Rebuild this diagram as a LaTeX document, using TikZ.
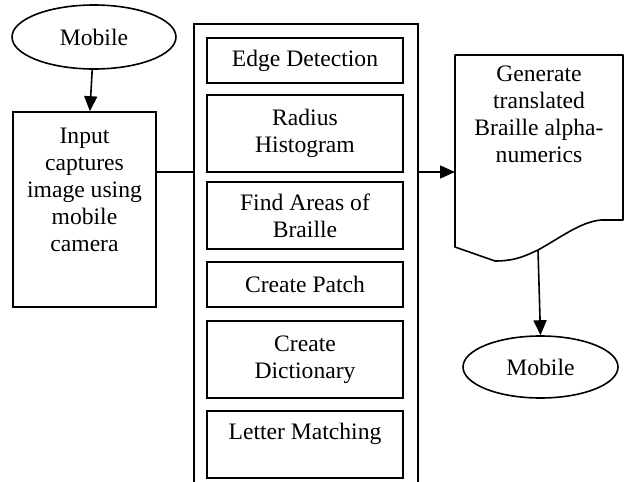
\documentclass[tikz,border=0pt]{standalone}
\usepackage{fontspec}
\setmainfont{Liberation Serif}
\usetikzlibrary{shapes.geometric,arrows.meta}
\begin{document}
\begin{tikzpicture}[x=1pt,y=-1pt,
  lw/.style={line width=1.6pt},
  txt/.style={font=\fontsize{23.6}{27}\selectfont, align=center, inner sep=0pt},
  box/.style={lw, draw, rectangle, inner sep=0pt, align=center, font=\fontsize{23.6}{27}\selectfont},
  ell/.style={lw, draw, ellipse, inner sep=0pt, font=\fontsize{23.6}{27}\selectfont},
  arr/.style={lw, -{Triangle[length=15pt,width=13pt]}}]
\useasboundingbox (0,0) rectangle (625,482);
% start ellipse
\node[ell, minimum width=164pt, minimum height=64pt] (m1) at (94,37) {Mobile};
% input box
\node[box, minimum width=143pt, minimum height=195pt] (inp) at (84.5,209.5) {};
\node[txt, anchor=north] (inpt) at (84.5,128) {Input\\captures\\image using\\mobile\\camera};
% outer container (open at the bottom)
\coordinate (obl) at (194,482);
\coordinate (otl) at (194,24);
\coordinate (otr) at (418,24);
\coordinate (obr) at (418,482);
\coordinate (oin) at (194,172);
\coordinate (oout) at (418,172);
\draw[lw] (obl) -- (otl) -- (otr) -- (obr);
% inner steps
\node[box, minimum width=196pt, minimum height=45pt] (s1) at (305,60.5) {Edge Detection};
\node[box, minimum width=196pt, minimum height=77pt] (s2) at (305,133.5) {Radius\\Histogram};
\node[box, minimum width=196pt, minimum height=67pt] (s3) at (305,215.5) {Find Areas of\\Braille};
\node[box, minimum width=196pt, minimum height=45pt] (s4) at (305,284.5) {Create Patch};
\node[box, minimum width=196pt, minimum height=77pt] (s5) at (305,359.5) {Create\\Dictionary};
\node[box, minimum width=196pt, minimum height=67pt, text depth=26pt] (s6) at (305,444.5) {Letter Matching};
% document shape
\coordinate (dtl) at (455,55);
\coordinate (dtr) at (623,55);
\coordinate (dbr) at (623,220);
\coordinate (dbl) at (455,247);
\coordinate (din) at (455,172);
\coordinate (dout) at (538,250);
\draw[lw, line join=round] (dbl) -- (dtl) -- (dtr) -- (dbr) -- (601,220)
  .. controls (580,222) and (560,238) .. (dout)
  .. controls (525,256) and (515,261) .. (495,261) -- cycle;
\node[txt, anchor=north] (doct) at (539,66) {Generate\\translated\\Braille alpha-\\numerics};
% end ellipse
\node[ell, minimum width=155pt, minimum height=62pt] (m2) at (540.5,367) {Mobile};
% connectors
\draw[arr] (m1) -- (inp);
\draw[lw] (inp.east |- oin) -- (oin);
\draw[arr] (oout) -- (din);
\draw[arr] (dout) -- (m2.north);
\end{tikzpicture}
\end{document}
